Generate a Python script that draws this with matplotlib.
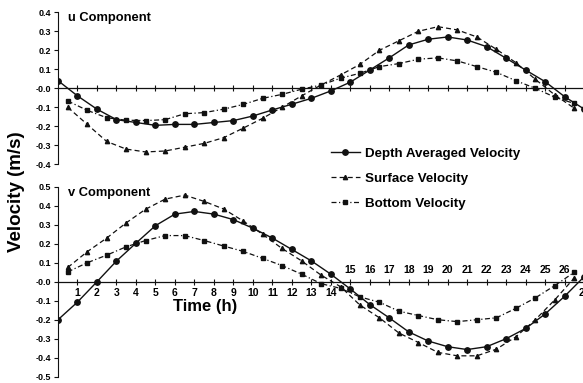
import numpy as np
import matplotlib
matplotlib.use("Agg")
import matplotlib.pyplot as plt
from matplotlib.ticker import FormatStrFormatter, FuncFormatter

plt.rcParams['font.family'] = ['Liberation Sans', 'DejaVu Sans']
plt.rcParams['font.weight'] = 'bold'
plt.rcParams['axes.labelweight'] = 'bold'
plt.rcParams['axes.unicode_minus'] = False

# time axes (h): depth averaged on the hour, surface/bottom on the half hour
t_depth = np.arange(0, 28, 1.0)
t_half = np.arange(0.5, 27, 1.0)

# u component (m/s)
u_depth = [0.04, -0.04, -0.11, -0.165, -0.18, -0.195, -0.19, -0.19, -0.18, -0.17,
           -0.146, -0.114, -0.084, -0.053, -0.014, 0.032, 0.096, 0.16, 0.228, 0.258,
           0.27, 0.254, 0.219, 0.158, 0.096, 0.035, -0.044, -0.109]
u_surface = [-0.10, -0.19, -0.28, -0.32, -0.335, -0.33, -0.31, -0.29, -0.26, -0.21,
             -0.158, -0.10, -0.04, 0.017, 0.07, 0.126, 0.20, 0.25, 0.30, 0.324,
             0.307, 0.27, 0.205, 0.135, 0.047, -0.035, -0.105]
u_bottom = [-0.067, -0.116, -0.155, -0.168, -0.17, -0.165, -0.134, -0.128, -0.11, -0.085,
            -0.053, -0.032, -0.005, 0.017, 0.053, 0.079, 0.114, 0.13, 0.153, 0.16,
            0.144, 0.114, 0.084, 0.04, 0.0, -0.047, -0.08]

# v component (m/s)
v_depth = [-0.2, -0.107, 0.0, 0.109, 0.203, 0.295, 0.356, 0.37, 0.356, 0.327,
           0.282, 0.23, 0.17, 0.11, 0.04, -0.038, -0.12, -0.19, -0.264, -0.312,
           -0.342, -0.357, -0.342, -0.30, -0.246, -0.17, -0.077, 0.026]
v_surface = [0.075, 0.158, 0.23, 0.31, 0.382, 0.435, 0.456, 0.423, 0.383, 0.32,
             0.25, 0.175, 0.11, 0.035, -0.026, -0.123, -0.19, -0.27, -0.32, -0.372,
             -0.39, -0.39, -0.355, -0.29, -0.20, -0.095, 0.02]
v_bottom = [0.052, 0.10, 0.14, 0.184, 0.217, 0.243, 0.243, 0.217, 0.188, 0.16,
            0.123, 0.085, 0.04, -0.01, -0.035, -0.08, -0.108, -0.155, -0.178, -0.20,
            -0.21, -0.20, -0.19, -0.14, -0.085, -0.02, 0.05]

hours = np.arange(1, 28)
labels = ['Depth Averaged Velocity', 'Surface Velocity', 'Bottom Velocity']

ink = '#111111'
fig = plt.figure(figsize=(5.83, 3.83), dpi=100)
ax_u = fig.add_axes([0.0995, 0.571, 0.919, 0.397])
ax_v = fig.add_axes([0.0995, 0.0164, 0.919, 0.496])


def draw(ax, yd, ys, yb):
    h1, = ax.plot(t_depth, yd, '-', color=ink, lw=1.0, marker='o', ms=3.9,
                  label=labels[0])
    h2, = ax.plot(t_half, ys, color=ink, lw=0.9, ls=(0, (4, 2.5)), marker='^', ms=3.1,
                  label=labels[1])
    h3, = ax.plot(t_half, yb, color=ink, lw=0.9, ls=(0, (4, 2, 1, 2)), marker='s', ms=2.9,
                  label=labels[2])
    ax.set_xlim(0, 27.5)
    for s in ['top', 'right']:
        ax.spines[s].set_visible(False)
    ax.spines['bottom'].set_position(('data', 0))
    ax.spines['left'].set_color(ink)
    ax.spines['bottom'].set_color(ink)
    ax.spines['bottom'].set_linewidth(0.9)
    ax.set_xticks(hours)
    ax.tick_params(axis='x', direction='inout', length=5, width=0.8, color=ink,
                   labelsize=7.5, pad=2)
    ax.tick_params(axis='y', direction='out', length=3, width=0.8, color=ink,
                   labelsize=6.5, pad=2)
    ax.yaxis.set_major_formatter(FormatStrFormatter('%.1f'))
    ax.patch.set_alpha(0)
    return [h1, h2, h3]


handles = draw(ax_u, u_depth, u_surface, u_bottom)
ax_u.set_ylim(-0.4, 0.4)
ax_u.set_yticks(np.round(np.arange(-0.4, 0.41, 0.1), 1))
ax_u.set_xticklabels([])
ax_u.text(0.018, 1.0, 'u Component', transform=ax_u.transAxes, fontsize=9.3,
          va='top', ha='left')

draw(ax_v, v_depth, v_surface, v_bottom)
ax_v.set_ylim(-0.5, 0.5)
ax_v.set_yticks(np.round(np.arange(-0.5, 0.51, 0.1), 1))
ax_v.xaxis.set_major_formatter(FuncFormatter(lambda v, p: '%d' % v if v <= 14 or v >= 27 else ''))
sec = ax_v.secondary_xaxis(0.5)
sec.set_xticks(hours[14:26])
sec.tick_params(axis='x', length=0, labelsize=7.5, pad=5)
for s in sec.spines.values():
    s.set_visible(False)
ax_v.text(0.018, 1.0, 'v Component', transform=ax_v.transAxes, fontsize=9.3,
          va='top', ha='left')
ax_v.set_xlabel('Time (h)', fontsize=12, fontweight='bold')
ax_v.xaxis.set_label_coords(0.274, 0.41)

fig.text(0.029, 0.5, 'Velocity (m/s)', rotation=90, fontsize=13.5,
         fontweight='bold', ha='center', va='center')

fig.legend(handles, labels, loc='upper left', bbox_to_anchor=(0.556, 0.633),
           frameon=False, fontsize=9.6, handlelength=2.2, handletextpad=0.4,
           labelspacing=0.95, borderpad=0)

fig.savefig('out.png', dpi=100)
